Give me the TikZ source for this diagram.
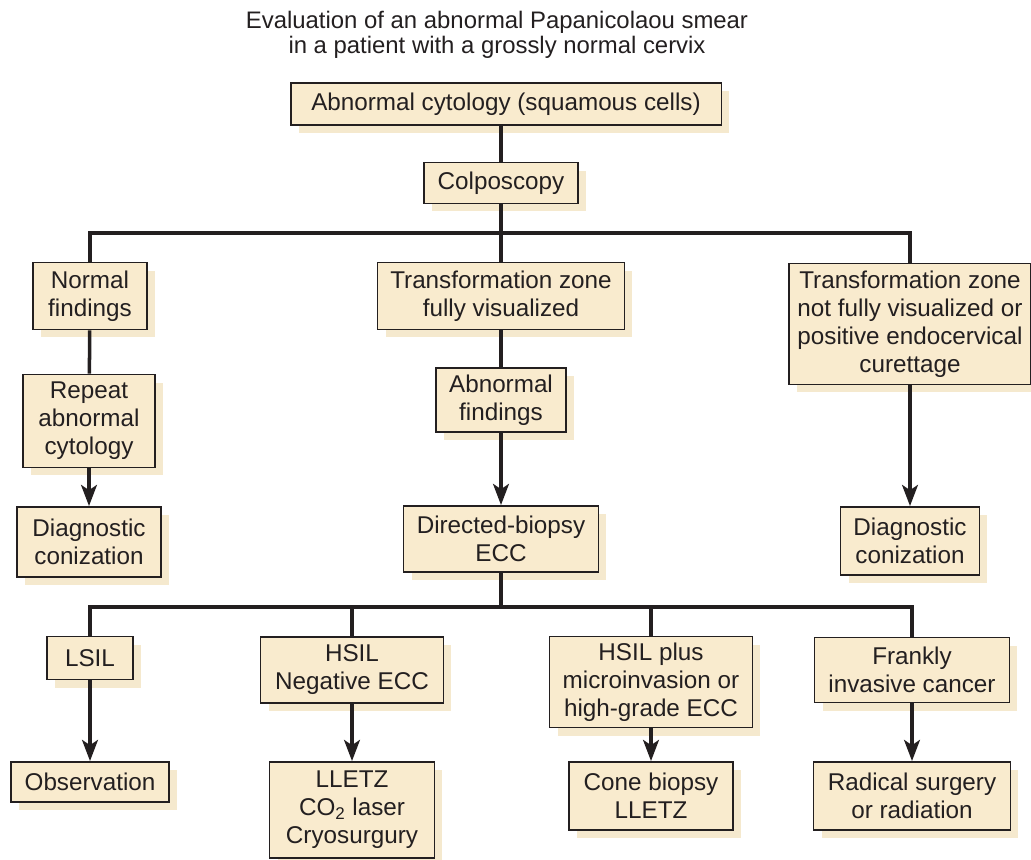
\documentclass[tikz,border=0pt]{standalone}
\usepackage{fontspec}
\setmainfont{Liberation Sans}
\usetikzlibrary{arrows.meta,shadows}
\definecolor{boxfill}{RGB}{249,235,206}
\definecolor{boxshade}{RGB}{245,233,206}
\definecolor{ink}{RGB}{35,31,32}

\begin{document}
\begin{tikzpicture}[x=0.02cm, y=-0.02cm]
\tikzstyle{every node}=[font=\fontsize{13.8}{15.9}\selectfont, text=ink, align=center]
\tikzstyle{box}=[draw=ink, line width=1.1pt, fill=boxfill, inner sep=0pt, drop shadow={shadow xshift=0.16cm, shadow yshift=-0.16cm, fill=boxshade, opacity=1}]
\tikzstyle{link}=[draw=ink, line width=2pt]
\tikzstyle{arr}=[link, -{Stealth[length=12pt,width=9pt,inset=3pt]}]
\useasboundingbox (0,0) rectangle (1031,859);

\node[font=\fontsize{13.6}{14.4}\selectfont]   (T) at (497,35)  {Evaluation of an abnormal Papanicolaou smear\\in a patient with a grossly normal cervix};
\node[box, minimum width=8.62cm, minimum height=0.84cm]  (A) at (506,104) {Abnormal cytology (squamous cells)};
\node[box, minimum width=3.08cm, minimum height=0.82cm]  (B) at (501,183) {Colposcopy};

\node[box, minimum width=2.28cm, minimum height=1.34cm]  (C) at (90,296)  {Normal\\findings};
\node[box, minimum width=4.94cm, minimum height=1.34cm]  (D) at (501,296) {Transformation zone\\fully visualized};
\node[box, minimum width=4.84cm, minimum height=2.42cm]  (E) at (910,324) {Transformation zone\\not fully visualized or\\positive endocervical\\curettage};

\node[box, minimum width=2.64cm, minimum height=1.86cm]  (F) at (89,421)  {Repeat\\abnormal\\cytology};
\node[box, minimum width=2.60cm, minimum height=1.28cm]  (H) at (501,400) {Abnormal\\findings};

\node[box, minimum width=2.88cm, minimum height=1.40cm]  (G) at (89,542)  {Diagnostic\\conization};
\node[box, minimum width=3.90cm, minimum height=1.32cm]  (I) at (501,539) {Directed-biopsy\\ECC};
\node[box, minimum width=2.78cm, minimum height=1.36cm]  (J) at (910,541) {Diagnostic\\conization};

\node[box, minimum width=1.72cm, minimum height=0.86cm]  (K) at (90,658)  {LSIL};
\node[box, minimum width=3.66cm, minimum height=1.32cm]  (L) at (352,670) {HSIL\\Negative ECC};
\node[box, minimum width=4.06cm, minimum height=1.82cm]  (M) at (651,682) {HSIL plus\\microinvasion or\\high-grade ECC};
\node[box, minimum width=3.90cm, minimum height=1.30cm]  (N) at (912,670) {Frankly\\invasive cancer};

\node[box, minimum width=3.16cm, minimum height=0.80cm]  (O) at (90,782)  {Observation};
\node[box, minimum width=3.30cm, minimum height=1.92cm]  (P) at (352,810) {LLETZ\\CO\textsubscript{2} laser\\Cryosurgury};
\node[box, minimum width=3.28cm, minimum height=1.36cm]  (Q) at (651,796) {Cone biopsy\\LLETZ};
\node[box, minimum width=3.94cm, minimum height=1.36cm]  (R) at (912,796) {Radical surgery\\or radiation};

\coordinate (j1) at (501,233);
\coordinate (j2) at (501,607);

% top
\draw[link] (B.north |- A.south) -- (B.north);
\draw[link] (B) -- (j1);
\draw[link] (C.north) |- (j1) -| (E.north);
\draw[link] (j1) -- (D);

% first row
\draw[link] (C) -- (F);
\draw[arr]  (F) -- (G);
\draw[link] (D) -- (H);
\draw[arr]  (H) -- (I);
\draw[arr]  (E) -- (J);

% second row
\draw[link] (I) -- (j2);
\draw[link] (K.north) |- (j2) -| (N.north);
\draw[link] (L.north) |- (j2);
\draw[link] (M.north) |- (j2);
\draw[arr]  (K) -- (O);
\draw[arr]  (L) -- (P);
\draw[arr]  (M) -- (Q);
\draw[arr]  (N) -- (R);

\end{tikzpicture}
\end{document}
